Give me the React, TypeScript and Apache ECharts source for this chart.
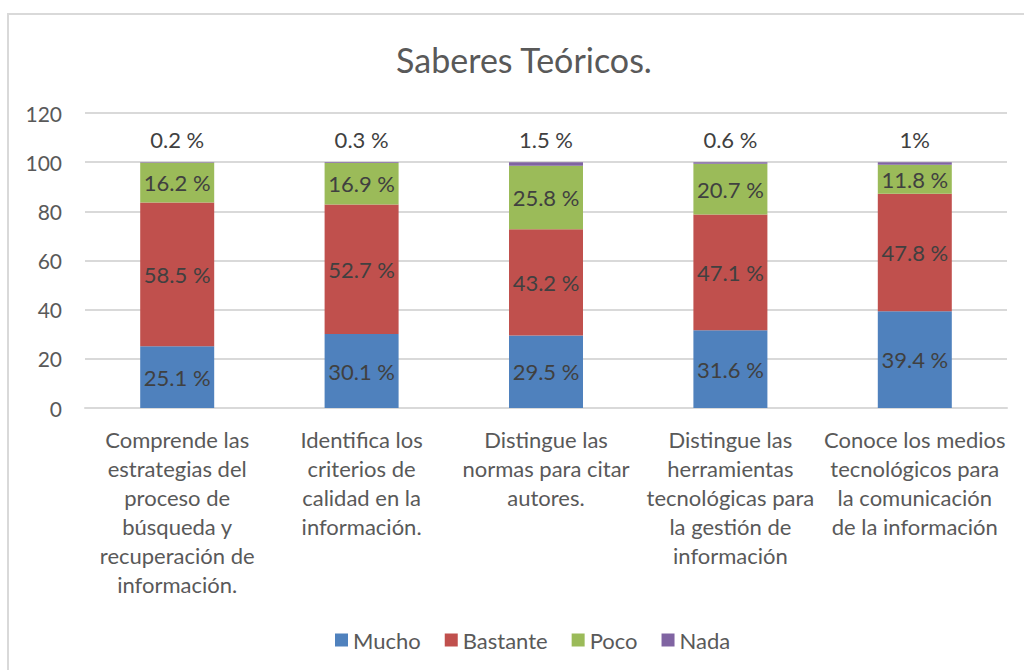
import React, { useEffect, useRef } from "react";
import * as echarts from "echarts";

const categories = [
  "Comprende las\nestrategias del\nproceso de\nbúsqueda y\nrecuperación de\ninformación.",
  "Identifica los\ncriterios de\ncalidad en la\ninformación.",
  "Distingue las\nnormas para citar\nautores.",
  "Distingue las\nherramientas\ntecnológicas para\nla gestión de\ninformación",
  "Conoce los medios\ntecnológicos para\nla comunicación\nde la información",
];
const mucho = [25.1, 30.1, 29.5, 31.6, 39.4];
const bastante = [58.5, 52.7, 43.2, 47.1, 47.8];
const poco = [16.2, 16.9, 25.8, 20.7, 11.8];
const nada = [0.2, 0.3, 1.5, 0.6, 1];
const nadaLabels = ["0.2 %", "0.3 %", "1.5 %", "0.6 %", "1%"];
const yTicks = { min: 0, max: 120, interval: 20 };

const FONT = "Lato, 'Open Sans', sans-serif";

export default function App() {
  const ref = useRef<HTMLDivElement>(null);
  useEffect(() => {
    if (!ref.current) return;
    const chart = echarts.init(ref.current, undefined, { renderer: "svg" });
    const inLabel = {
      show: true,
      position: "inside",
      color: "#404040",
      fontSize: 22,
      fontFamily: FONT,
      formatter: (p: any) => `${p.value} %`,
    };
    const mk = (name: string, data: number[], color: string) => ({
      name,
      type: "bar",
      stack: "total",
      data,
      barWidth: 74,
      itemStyle: { color },
      label: inLabel,
    });
    chart.setOption({
      animation: false,
      textStyle: { fontFamily: FONT },
      title: {
        text: "Saberes Teóricos.",
        left: 519,
        textAlign: "center",
        top: 37,
        textStyle: { fontSize: 34, fontWeight: "normal", color: "#595959", fontFamily: FONT },
      },
      graphic: [
        {
          type: "rect",
          shape: { x: 8, y: 14, width: 1100, height: 800 },
          style: { fill: "none", stroke: "#d9d9d9", lineWidth: 2 },
          silent: true,
        },
      ],
      legend: {
        top: 624,
        left: 330,
        itemWidth: 13,
        itemHeight: 13,
        itemGap: 24,
        icon: "rect",
        textStyle: { fontSize: 22, color: "#595959", fontFamily: FONT },
        data: ["Mucho", "Bastante", "Poco", "Nada"],
      },
      grid: { left: 85, right: 17, top: 113, bottom: 262 },
      xAxis: {
        type: "category",
        data: categories,
        axisLine: { lineStyle: { color: "#d9d9d9", width: 2 } },
        axisTick: { show: false },
        axisLabel: {
          interval: 0,
          color: "#595959",
          fontSize: 22,
          lineHeight: 29,
          margin: 17,
          fontFamily: FONT,
        },
      },
      yAxis: {
        type: "value",
        min: yTicks.min,
        max: yTicks.max,
        interval: yTicks.interval,
        axisLine: { show: false },
        axisTick: { show: false },
        splitLine: { lineStyle: { color: "#d9d9d9", width: 2 } },
        axisLabel: { color: "#595959", fontSize: 21, margin: 23, fontFamily: FONT },
      },
      series: [
        mk("Mucho", mucho, "#4F81BD"),
        mk("Bastante", bastante, "#C0504D"),
        mk("Poco", poco, "#9BBB59"),
        {
          ...mk("Nada", nada, "#8064A2"),
          label: {
            show: true,
            position: "top",
            distance: 12,
            color: "#404040",
            fontSize: 22,
            fontFamily: FONT,
            formatter: (p: any) => nadaLabels[p.dataIndex],
          },
        },
      ],
    });
    return () => chart.dispose();
  }, []);
  return (
    <div
      ref={ref}
      style={{ position: "fixed", left: 0, top: 0, width: 1024, height: 670, background: "#fff" }}
    />
  );
}
